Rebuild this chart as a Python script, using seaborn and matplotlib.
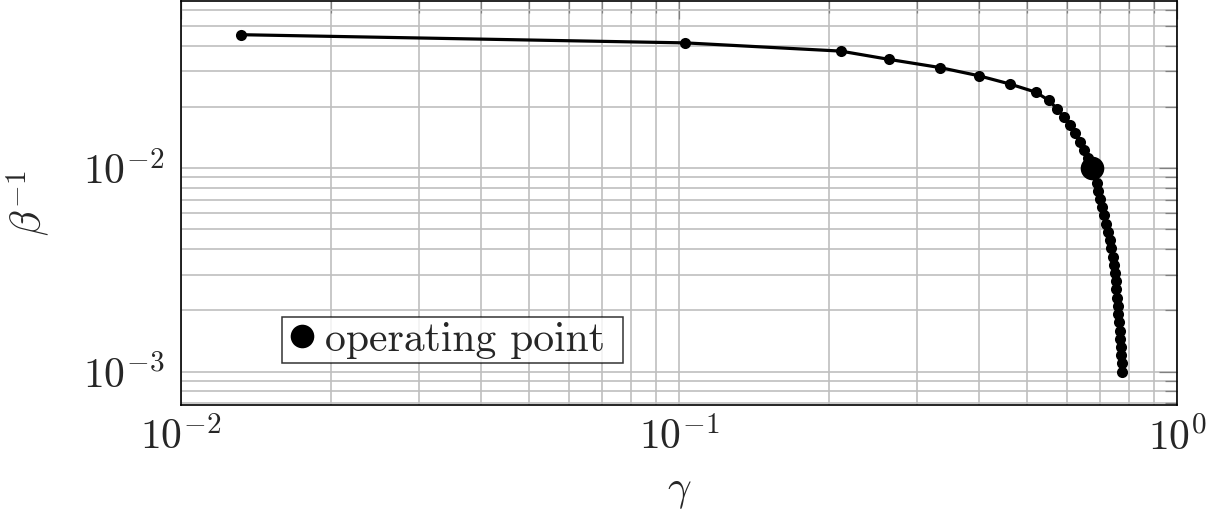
import numpy as np
import pandas as pd
import seaborn as sns
import matplotlib
matplotlib.use('Agg')
import matplotlib.pyplot as plt
from matplotlib.ticker import FixedLocator, FixedFormatter, LogLocator, NullFormatter

# curve (left to right)
gamma = [0.0132, 0.1030, 0.2112, 0.2637, 0.3339, 0.3999, 0.4616, 0.5207, 0.5529, 0.5738,
         0.5927, 0.6094, 0.6237, 0.6383, 0.6502, 0.6624, 0.6738, 0.6810, 0.6895, 0.6947,
         0.7002, 0.7067, 0.7133, 0.7199, 0.7266, 0.7323, 0.7378, 0.7446, 0.7470, 0.7500,
         0.7529, 0.7550, 0.7575, 0.7599, 0.7620, 0.7645, 0.7670, 0.7680, 0.7705, 0.7716,
         0.7741, 0.7752]
betaInv = [0.04523, 0.04123, 0.03757, 0.03423, 0.03120, 0.02843, 0.02590, 0.02360, 0.02151, 0.01960,
           0.01786, 0.01627, 0.01483, 0.01351, 0.01231, 0.01122, 0.01022, 0.009313, 0.008485, 0.007732,
           0.007046, 0.006420, 0.005850, 0.005330, 0.004858, 0.004426, 0.004033, 0.003675, 0.003349, 0.003051,
           0.002780, 0.002533, 0.002308, 0.002104, 0.001917, 0.001747, 0.001591, 0.001450, 0.001322, 0.001204,
           0.001098, 0.001000]

opGamma = [0.674]
opBetaInv = [0.0100]

xTicks = [1e-2, 1e-1, 1e0]
xTickLabels = [r'$10^{-2}$', r'$10^{-1}$', r'$10^{0}$']
yTicks = [1e-3, 1e-2]
yTickLabels = [r'$10^{-3}$', r'$10^{-2}$']

sns.set_style('white')
plt.rcParams['mathtext.fontset'] = 'cm'
plt.rcParams['font.family'] = ['cmr10', 'DejaVu Serif']
plt.rcParams['axes.unicode_minus'] = False

df = pd.DataFrame({'gamma': gamma, 'betaInv': betaInv})
dfOp = pd.DataFrame({'gamma': opGamma, 'betaInv': opBetaInv})

fig = plt.figure(figsize=(12.2, 5.16), dpi=100)
ax = fig.add_axes([181/1220, 1 - 405/516, 996/1220, 404/516])
ax.set_xscale('log')
ax.set_yscale('log')

sns.lineplot(data=df, x='gamma', y='betaInv', ax=ax, sort=False, estimator=None,
             color='black', linewidth=2.3, marker='o', markersize=8,
             markeredgewidth=0, zorder=3, legend=False)
ax.plot(dfOp['gamma'], dfOp['betaInv'], linestyle='none', marker='o', color='black',
        markersize=17, markeredgewidth=0, zorder=4, label='operating point ')

ax.set_xlim(1e-2, 1e0)
ax.set_ylim(10**-3.164, 10**-1.179)

ax.xaxis.set_major_locator(FixedLocator(xTicks))
ax.xaxis.set_major_formatter(FixedFormatter(xTickLabels))
ax.yaxis.set_major_locator(FixedLocator(yTicks))
ax.yaxis.set_major_formatter(FixedFormatter(yTickLabels))
ax.xaxis.set_minor_locator(LogLocator(base=10, subs=np.arange(2, 10), numticks=20))
ax.yaxis.set_minor_locator(LogLocator(base=10, subs=np.arange(2, 10), numticks=20))
ax.xaxis.set_minor_formatter(NullFormatter())
ax.yaxis.set_minor_formatter(NullFormatter())

ax.grid(True, which='both', color='#bfbfbf', linewidth=1.2, zorder=0)
ax.set_axisbelow(True)
ax.tick_params(which='both', direction='in', top=True, right=True, color='#808080', width=0.9)
ax.tick_params(which='major', length=13, labelsize=30)
ax.tick_params(which='minor', length=8.6)
ax.tick_params(axis='x', which='major', pad=9)
ax.tick_params(axis='y', which='major', pad=12)
for s in ax.spines.values():
    s.set_color('black')
    s.set_linewidth(1.2)

ax.set_xlabel(r'$\gamma$', fontsize=30, labelpad=11)
ax.set_ylabel(r'$\beta^{-1}$', fontsize=30, labelpad=22)

leg = ax.legend(loc='lower left', bbox_to_anchor=(0.101, 0.104), borderaxespad=0,
                fontsize=30, frameon=True, fancybox=False, handlelength=0.8,
                handletextpad=0.14, borderpad=0.1, markerscale=1.0)
leg.get_frame().set_edgecolor('black')
leg.get_frame().set_linewidth(1.1)

plt.savefig('out.png', dpi=100)
